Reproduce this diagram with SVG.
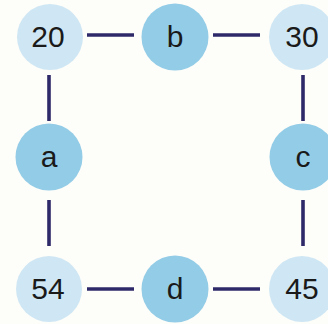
<svg xmlns="http://www.w3.org/2000/svg" width="328" height="324" viewBox="0 0 328 324">
<style>
.light{fill:#cfe7f4}
.dark{fill:#93cce7}
.lbl{font-family:"Liberation Sans",Arial,sans-serif;font-size:30px;fill:#1a1a1a;text-anchor:middle;dominant-baseline:central}
.edge{stroke:#2e2969;stroke-width:3.6;fill:none}
</style>
<rect width="328" height="324" fill="#fdfdf9"/>
<g id="connectors">
<line class="edge" x1="87" y1="35" x2="134" y2="35"/>
<line class="edge" x1="213" y1="35" x2="260" y2="35"/>
<line class="edge" x1="49" y1="75" x2="49" y2="121"/>
<line class="edge" x1="303" y1="75" x2="303" y2="121"/>
<line class="edge" x1="49" y1="200" x2="49" y2="246"/>
<line class="edge" x1="303" y1="200" x2="303" y2="246"/>
<line class="edge" x1="87" y1="289" x2="134" y2="289"/>
<line class="edge" x1="213" y1="289" x2="260" y2="289"/>
</g>
<g id="n20"><circle class="light" cx="50" cy="37" r="33"/><text class="lbl" x="48" y="36">20</text></g>
<g id="nb"><circle class="dark" cx="175" cy="37" r="33.5"/><text class="lbl" x="175" y="36">b</text></g>
<g id="n30"><circle class="light" cx="302" cy="37" r="33"/><text class="lbl" x="302" y="36">30</text></g>
<g id="na"><circle class="dark" cx="49" cy="157" r="33.5"/><text class="lbl" x="49" y="156">a</text></g>
<g id="nc"><circle class="dark" cx="303" cy="157" r="33.5"/><text class="lbl" x="303" y="156">c</text></g>
<g id="n54"><circle class="light" cx="49" cy="289" r="33"/><text class="lbl" x="48" y="288">54</text></g>
<g id="nd"><circle class="dark" cx="175" cy="289" r="33.5"/><text class="lbl" x="175" y="288">d</text></g>
<g id="n45"><circle class="light" cx="302" cy="289" r="33"/><text class="lbl" x="302" y="288">45</text></g>
</svg>
